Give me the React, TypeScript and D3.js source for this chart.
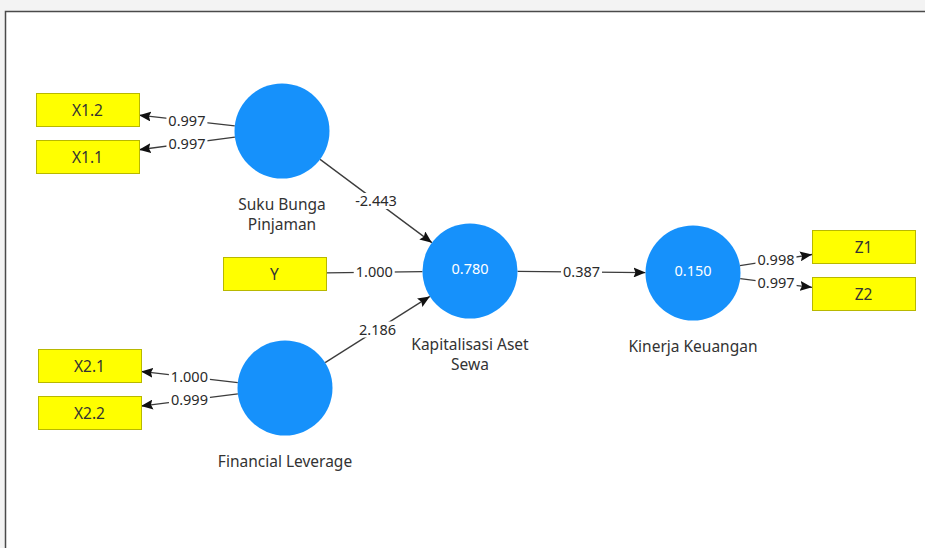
import React from "react";
import * as d3 from "d3";

// ---- data ----
const latentNames = ["Suku Bunga Pinjaman", "Kapitalisasi Aset Sewa", "Financial Leverage", "Kinerja Keuangan"];
const latentLabelLines = [["Suku Bunga", "Pinjaman"], ["Kapitalisasi Aset", "Sewa"], ["Financial Leverage"], ["Kinerja Keuangan"]];
const latentR2 = [null, "0.780", null, "0.150"];
const indicatorNames = ["X1.2", "X1.1", "Y", "X2.1", "X2.2", "Z1", "Z2"];
const edgeSources = ["Suku Bunga Pinjaman", "Suku Bunga Pinjaman", "Suku Bunga Pinjaman", "Y", "Financial Leverage", "Financial Leverage", "Financial Leverage", "Kapitalisasi Aset Sewa", "Kinerja Keuangan", "Kinerja Keuangan"];
const edgeTargets = ["X1.2", "X1.1", "Kapitalisasi Aset Sewa", "Kapitalisasi Aset Sewa", "Kapitalisasi Aset Sewa", "X2.1", "X2.2", "Kinerja Keuangan", "Z1", "Z2"];
const edgeValues = ["0.997", "0.997", "-2.443", "1.000", "2.186", "1.000", "0.999", "0.387", "0.998", "0.997"];
const edgeArrow = [true, true, true, false, true, true, true, true, true, true];

// ---- layout (separate from data) ----
const latentPos: Record<string, [number, number]> = {
  "Suku Bunga Pinjaman": [282, 131],
  "Kapitalisasi Aset Sewa": [470, 271],
  "Financial Leverage": [285, 388],
  "Kinerja Keuangan": [693, 273],
};
const indicatorPos: Record<string, [number, number]> = {
  "X1.2": [36, 93],
  "X1.1": [36, 140],
  "Y": [223, 257],
  "X2.1": [38, 349],
  "X2.2": [38, 396],
  "Z1": [812, 230],
  "Z2": [812, 277],
};
const RECT_W = 103;
const RECT_H = 33;
const RADIUS = 47.5;

type Shape = { kind: "circle"; cx: number; cy: number } | { kind: "rect"; x: number; y: number };

function shapeOf(name: string): Shape {
  if (latentPos[name]) return { kind: "circle", cx: latentPos[name][0], cy: latentPos[name][1] };
  return { kind: "rect", x: indicatorPos[name][0], y: indicatorPos[name][1] };
}
function center(s: Shape): [number, number] {
  return s.kind === "circle" ? [s.cx, s.cy] : [s.x + RECT_W / 2, s.y + RECT_H / 2];
}
function boundary(s: Shape, dx: number, dy: number): [number, number] {
  const [cx, cy] = center(s);
  const len = Math.hypot(dx, dy);
  const ux = dx / len, uy = dy / len;
  if (s.kind === "circle") return [cx + ux * RADIUS, cy + uy * RADIUS];
  const tx = ux !== 0 ? (RECT_W / 2) / Math.abs(ux) : Infinity;
  const ty = uy !== 0 ? (RECT_H / 2) / Math.abs(uy) : Infinity;
  const t = Math.min(tx, ty);
  return [cx + ux * t, cy + uy * t];
}

const FONT = "'Noto Sans', 'Open Sans', sans-serif";

export default function App() {
  const W = 925, H = 548;
  const line = d3.line();

  const edges = edgeSources.map((src, i) => {
    const s = shapeOf(src), t = shapeOf(edgeTargets[i]);
    const [sx, sy] = center(s), [tx, ty] = center(t);
    const p0 = boundary(s, tx - sx, ty - sy);
    const p1 = boundary(t, sx - tx, sy - ty);
    return { p0, p1, value: edgeValues[i], arrow: edgeArrow[i] };
  });

  return (
    <svg width={W} height={H} style={{ position: "absolute", left: 0, top: 0, background: "#f3f3f3" }}>
      <defs>
        <marker id="arr" viewBox="0 0 12 10" refX="12" refY="5" markerWidth="12" markerHeight="10" markerUnits="userSpaceOnUse" orient="auto">
          <path d="M0,0 L12,5 L0,10 L2,5 z" fill="#111" />
        </marker>
      </defs>
      <rect x={5} y={11} width={W} height={H} fill="#ffffff" />
      <path d="M5.5,548 L5.5,11.5 L925,11.5" fill="none" stroke="#4a4a4a" strokeWidth={1.5} />

      {edges.map((e, i) => (
        <path key={"e" + i} d={line([e.p0, e.p1]) || ""} stroke="#3c3c3c" strokeWidth={1.3} fill="none"
          markerEnd={e.arrow ? "url(#arr)" : undefined} />
      ))}
      {edges.map((e, i) => {
        const mx = (e.p0[0] + e.p1[0]) / 2, my = (e.p0[1] + e.p1[1]) / 2;
        const w = e.value.length * 7.8 + 2;
        return (
          <g key={"l" + i}>
            <rect x={mx - w / 2} y={my - 8} width={w} height={16} fill="#ffffff" />
            <text x={mx} y={my} dy="0.35em" textAnchor="middle" fontFamily={FONT} fontSize={14.5} fill="#2a2a2a">{e.value}</text>
          </g>
        );
      })}

      {latentNames.map((n, i) => {
        const [cx, cy] = latentPos[n];
        const lines = latentLabelLines[i];
        return (
          <g key={n}>
            <circle cx={cx} cy={cy} r={RADIUS} fill="#1691fb" />
            {latentR2[i] && (
              <text x={cx} y={cy - 2} dy="0.35em" textAnchor="middle" fontFamily={FONT} fontSize={14.5} fill="#ffffff">{latentR2[i]}</text>
            )}
            {lines.map((l, j) => (
              <text key={j} x={cx} y={cy + RADIUS + 31 + j * 20} textAnchor="middle" fontFamily={FONT} fontSize={15.5} fill="#333">{l}</text>
            ))}
          </g>
        );
      })}

      {indicatorNames.map((n) => {
        const [x, y] = indicatorPos[n];
        return (
          <g key={n}>
            <rect x={x + 0.5} y={y + 0.5} width={RECT_W} height={RECT_H} fill="#ffff00" stroke="#b8b800" strokeWidth={1} />
            <text x={x + RECT_W / 2} y={y + RECT_H / 2 + 1} dy="0.35em" textAnchor="middle" fontFamily={FONT} fontSize={15.5} fill="#333">{n}</text>
          </g>
        );
      })}
    </svg>
  );
}
